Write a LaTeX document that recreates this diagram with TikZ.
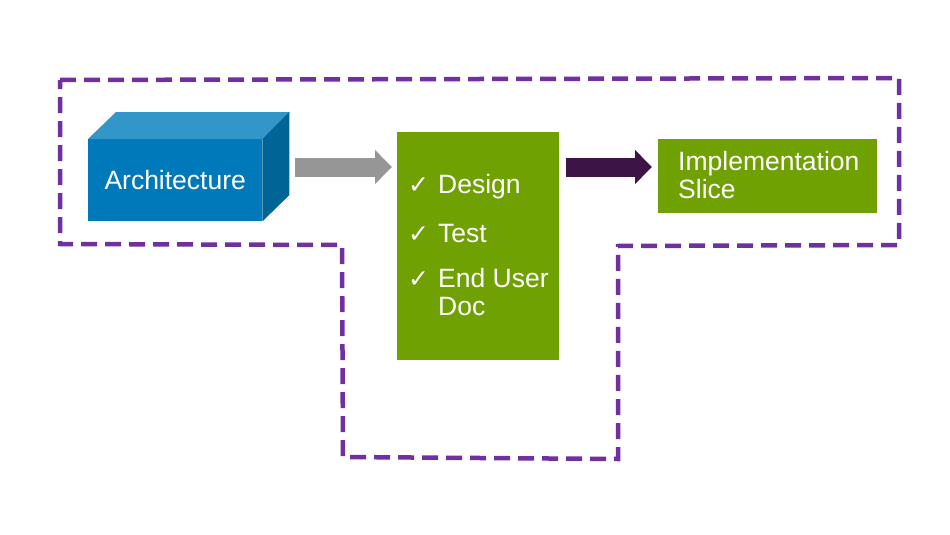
\documentclass[tikz,border=0pt]{standalone}
\usepackage{fontspec}
\setmainfont{Liberation Sans}
\newfontfamily\symfont{DejaVu Sans}
\usetikzlibrary{arrows.meta}
\definecolor{dashpurple}{RGB}{112,48,160}
\definecolor{archfront}{RGB}{0,121,187}
\definecolor{archtop}{RGB}{51,150,200}
\definecolor{archside}{RGB}{0,100,150}
\definecolor{boxgreen}{RGB}{112,161,2}
\definecolor{arrowgray}{RGB}{150,150,150}
\definecolor{arrowplum}{RGB}{60,20,70}
\tikzset{
  bigtext/.style={font=\fontsize{26.5}{28}\selectfont, text=white},
  greenbox/.style={fill=boxgreen, draw=none, inner sep=0pt},
  listitem/.style={bigtext, anchor=base west, inner sep=0pt},
  tick/.style={font=\symfont\fontsize{25}{25}\selectfont, text=white, anchor=base west, inner sep=0pt},
  fatarrow/.style={line width=19pt, -{Triangle[length=17pt,width=33pt]}},
  outline/.style={draw=dashpurple, line width=4.5pt, dash pattern=on 16pt off 8pt, line join=miter}
}
\begin{document}
\begin{tikzpicture}[x=1pt,y=-1pt]
\useasboundingbox[fill=white] (0,0) rectangle (950,535);
% dashed outline
\draw[outline] (60,80) -- (899,78) -- (899,245) -- (618,246) -- (618,459) -- (343,457) -- (342,245) -- (60,244) -- cycle;
% architecture block
\node[fill=archfront, minimum width=174pt, minimum height=82pt, inner sep=0pt, anchor=north west] (arch) at (88,139) {};
\fill[archtop] (arch.north west) -- ++(28,-27) -- ++(174,0) -- (arch.north east) -- cycle;
\fill[archside] (arch.north east) -- ++(27,-27) -- ++(0,83) -- (arch.south east) -- cycle;
\node[bigtext] (archlabel) at (arch.center) {Architecture};
% middle green box
\node[greenbox, minimum width=162pt, minimum height=228pt, anchor=north west] (mid) at (397,132) {};
\node[tick] (t1) at (408,193) {✓};
\node[listitem] (l1) at (438,193) {Design};
\node[tick] (t2) at (408,242) {✓};
\node[listitem] (l2) at (438,242) {Test};
\node[tick] (t3) at (408,287) {✓};
\node[listitem] (l3) at (438,287) {End User};
\node[listitem] (l4) at (438,315) {Doc};
% implementation box
\node[greenbox, minimum width=219pt, minimum height=74pt, anchor=north west] (impl) at (658,139) {};
\node[listitem] (i1) at (678,170) {Implementation};
\node[listitem] (i2) at (678,198) {Slice};
% arrows
\coordinate (ay) at (0,167);
\draw[fatarrow, arrowgray] ([xshift=33pt]arch.east |- ay) -- ([xshift=-5pt]mid.west |- ay);
\draw[fatarrow, arrowplum] ([xshift=7pt]mid.east |- ay) -- ([xshift=-6pt]impl.west |- ay);
\end{tikzpicture}
\end{document}
